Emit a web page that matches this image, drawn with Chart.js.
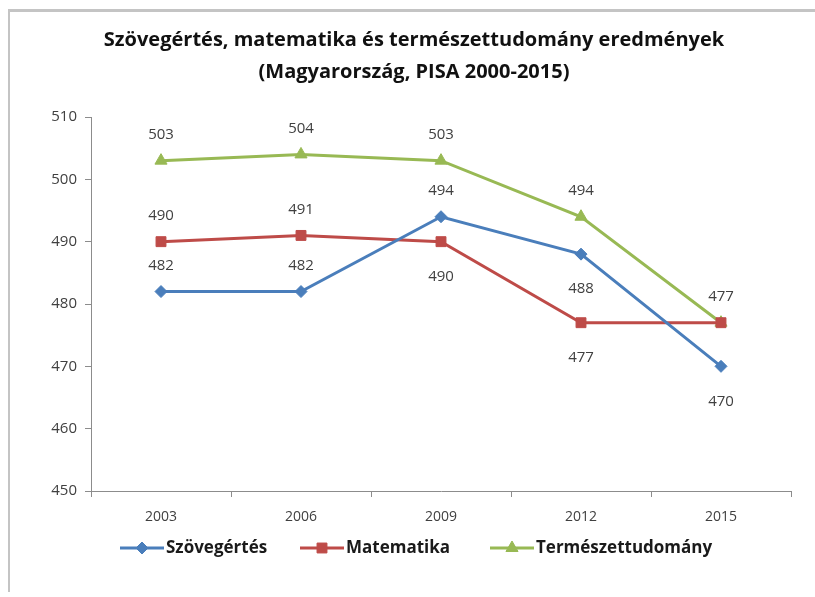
<!DOCTYPE html>
<html>
<head>
<meta charset="utf-8">
<script src="https://cdn.jsdelivr.net/npm/chart.js@4"></script>
<style>
  html, body { margin: 0; padding: 0; background: #fff; }
  #wrap { position: relative; width: 815px; height: 597px; }
  #frame { position: absolute; left: 8px; top: 9px; width: 820px; height: 580px;
           border-left: 2px solid #c4c4c4; border-top: 3px solid #c4c4c4; }
  canvas { position: absolute; left: 0; top: 0; }
</style>
</head>
<body>
<div id="wrap">
  <div id="frame"></div>
  <canvas id="chart" width="815" height="597"></canvas>
</div>
<script>
const years = ['2003', '2006', '2009', '2012', '2015'];
const szovegertes = [482, 482, 494, 488, 470];
const matematika = [490, 491, 490, 477, 477];
const termeszet = [503, 504, 503, 494, 477];
const yTicks = [450, 460, 470, 480, 490, 500, 510];

const titleLines = ['Szövegértés, matematika és természettudomány eredmények', '(Magyarország, PISA 2000-2015)'];

// where the value label sits: 1 above, -1 below, 0 none
const labelSide = [
    [1, 1, 1, -1, -1],
    [1, 1, -1, -1, 0],
    [1, 1, 1, 1, 1]
];

const FONT = '"Open Sans", sans-serif';

const labelsPlugin = {
    id: 'valueLabels',
    afterDatasetsDraw(chart) {
        const c = chart.ctx;
        c.save();
        c.font = '15px ' + FONT;
        c.fillStyle = '#404040';
        c.textAlign = 'center';
        c.textBaseline = 'middle';
        chart.data.datasets.forEach((ds, i) => {
            chart.getDatasetMeta(i).data.forEach((pt, j) => {
                const side = labelSide[i][j];
                if (!side) return;
                const y = side > 0 ? pt.y - 26 : pt.y + 35;
                c.fillText(ds.data[j], pt.x, y);
            });
        });
        c.restore();
    }
};

const decorPlugin = {
    id: 'decor',
    afterDraw(chart) {
        const c = chart.ctx;
        c.save();
        // title
        c.fillStyle = '#111';
        c.font = 'bold 20px ' + FONT;
        c.textAlign = 'center';
        c.textBaseline = 'middle';
        c.fillText(titleLines[0], 414, 40);
        c.fillText(titleLines[1], 414, 72);

        // legend
        const items = [
            { x: 120, ds: chart.data.datasets[0] },
            { x: 300, ds: chart.data.datasets[1] },
            { x: 490, ds: chart.data.datasets[2] }
        ];
        const ly = 548;
        c.font = 'bold 17px ' + FONT;
        c.textAlign = 'left';
        items.forEach(it => {
            c.strokeStyle = it.ds.borderColor;
            c.lineWidth = 3;
            c.beginPath();
            c.moveTo(it.x, ly);
            c.lineTo(it.x + 44, ly);
            c.stroke();
            c.fillStyle = it.ds.borderColor;
            c.lineWidth = 1;
            Chart.helpers.drawPoint(c, {
                pointStyle: it.ds.pointStyle,
                radius: it.ds.pointRadius,
                rotation: 0,
                borderWidth: 1
            }, it.x + 22, ly);
            c.fillStyle = '#1a1a1a';
            c.fillText(it.ds.label, it.x + 46, ly);
        });
        c.restore();
    }
};

const ctx = document.getElementById('chart');

new Chart(ctx, {
    type: 'line',
    data: {
        labels: years,
        datasets: [
            {
                label: 'Szövegértés',
                data: szovegertes,
                borderColor: '#4a7ebb',
                backgroundColor: '#4a7ebb',
                pointStyle: 'rectRot',
                pointRadius: 6
            },
            {
                label: 'Matematika',
                data: matematika,
                borderColor: '#be4b48',
                backgroundColor: '#be4b48',
                pointStyle: 'rect',
                pointRadius: 7
            },
            {
                label: 'Természettudomány',
                data: termeszet,
                borderColor: '#98b954',
                backgroundColor: '#98b954',
                pointStyle: 'triangle',
                pointRadius: 7
            }
        ]
    },
    options: {
        responsive: false,
        animation: false,
        layout: { padding: { left: 0, right: 24, top: 117, bottom: 0 } },
        elements: {
            line: { borderWidth: 3, tension: 0 },
            point: { borderWidth: 1, hoverRadius: 7 }
        },
        plugins: {
            legend: { display: false },
            title: { display: false },
            tooltip: { enabled: false }
        },
        scales: {
            x: {
                offset: true,
                grid: { offset: true, drawOnChartArea: false, tickLength: 6, color: '#8c8c8c' },
                border: { color: '#8c8c8c', width: 1 },
                ticks: { color: '#404040', font: { family: FONT, size: 14 }, padding: 12 },
                afterFit(s) { s.height = 106; }
            },
            y: {
                min: 450,
                max: 510,
                afterBuildTicks(s) { s.ticks = yTicks.map(v => ({ value: v })); },
                grid: { drawOnChartArea: false, tickLength: 6, color: '#8c8c8c' },
                border: { color: '#8c8c8c', width: 1 },
                ticks: { color: '#404040', font: { family: FONT, size: 15 }, padding: 8 },
                afterFit(s) { s.width = 91; }
            }
        }
    },
    plugins: [labelsPlugin, decorPlugin]
});
</script>
</body>
</html>
